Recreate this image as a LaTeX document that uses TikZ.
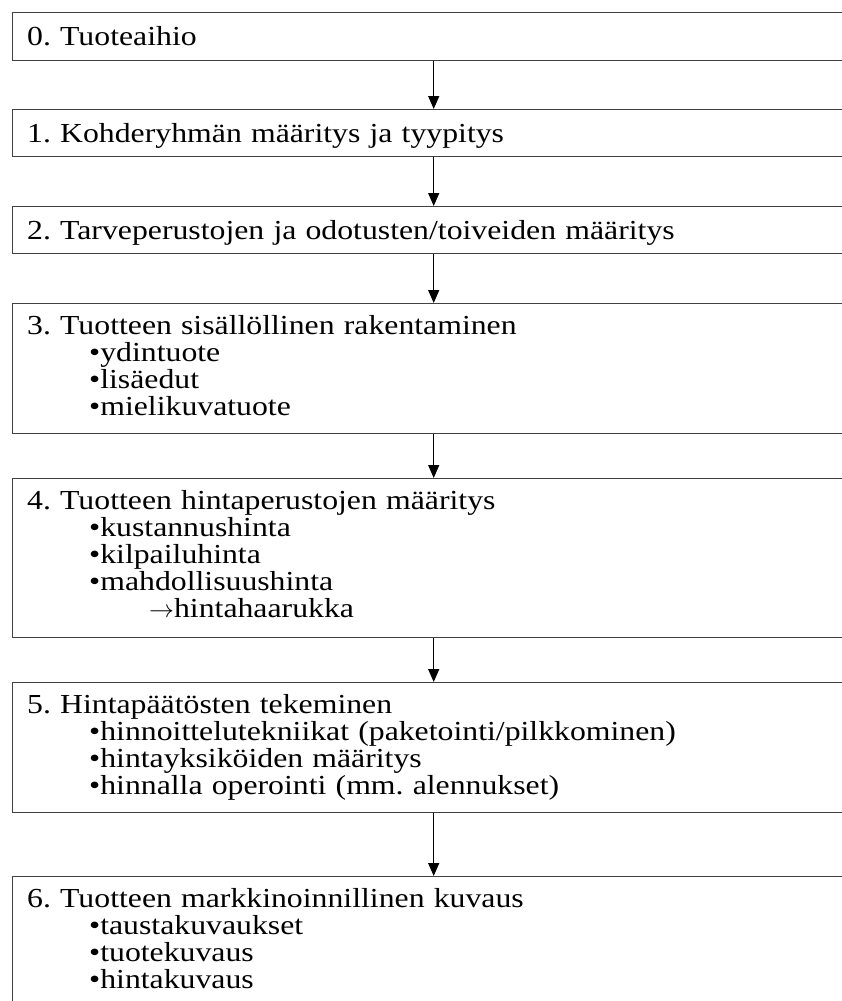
\documentclass[tikz,border=0pt]{standalone}
\usepackage{fontspec}
\setmainfont{Liberation Serif}[FakeStretch=1.155]
\usetikzlibrary{arrows.meta}
\begin{document}
\frenchspacing
\begin{tikzpicture}[x=1pt,y=-1pt,
  stage/.style={draw=black!75, line width=1.4pt, rectangle, anchor=north west,
    minimum width=842pt, inner sep=0pt},
  label/.style={anchor=north west, inner sep=0pt, text width=800pt, align=left,
    font=\fontsize{27.5}{27}\selectfont},
  single/.style={label, yshift=-9pt},
  multi/.style={label, yshift=-7pt},
  flow/.style={draw=black, line width=1.3pt, -{Triangle[width=11pt,length=13pt]}}]
\useasboundingbox (0,0) rectangle (842,1001);
\clip (0,0) rectangle (842,1001);
\fill[white] (0,0) rectangle (842,1001);
\newcommand{\itemind}{\hspace*{62pt}}
\newcommand{\subind}{\hspace*{122pt}}
\newcommand{\firstline}{\rule{0pt}{24pt}}
% process stages, top to bottom
\node[stage, minimum height=48pt]  (s0) at (12,12)  {};
\node[stage, minimum height=47pt]  (s1) at (12,109) {};
\node[stage, minimum height=47pt]  (s2) at (12,206) {};
\node[stage, minimum height=130pt] (s3) at (12,303) {};
\node[stage, minimum height=159pt] (s4) at (12,478) {};
\node[stage, minimum height=130pt] (s5) at (12,682) {};
\node[stage, minimum height=130pt] (s6) at (12,876) {};
% stage texts
\node[single] (t0) at ([xshift=15pt]s0.north west) {\firstline0. Tuoteaihio};
\node[single] (t1) at ([xshift=15pt]s1.north west) {\firstline1. Kohderyhmän määritys ja tyypitys};
\node[single] (t2) at ([xshift=15pt]s2.north west) {\firstline2. Tarveperustojen ja odotusten/toiveiden määritys};
\node[multi] (t3) at ([xshift=15pt]s3.north west) {\firstline3. Tuotteen sisällöllinen rakentaminen\\
  \itemind•ydintuote\\
  \itemind•lisäedut\\
  \itemind•mielikuvatuote};
\node[multi] (t4) at ([xshift=15pt]s4.north west) {\firstline4. Tuotteen hintaperustojen määritys\\
  \itemind•kustannushinta\\
  \itemind•kilpailuhinta\\
  \itemind•mahdollisuushinta\\
  \subind$\rightarrow$hintahaarukka};
\node[multi] (t5) at ([xshift=15pt]s5.north west) {\firstline5. Hintapäätösten tekeminen\\
  \itemind•hinnoittelutekniikat (paketointi/pilkkominen)\\
  \itemind•hintayksiköiden määritys\\
  \itemind•hinnalla operointi (mm. alennukset)};
\node[multi] (t6) at ([xshift=15pt]s6.north west) {\firstline6. Tuotteen markkinoinnillinen kuvaus\\
  \itemind•taustakuvaukset\\
  \itemind•tuotekuvaus\\
  \itemind•hintakuvaus};
% connectors
\draw[flow] (s0.south) -- (s1.north);
\draw[flow] (s1.south) -- (s2.north);
\draw[flow] (s2.south) -- (s3.north);
\draw[flow] (s3.south) -- (s4.north);
\draw[flow] (s4.south) -- (s5.north);
\draw[flow] (s5.south) -- (s6.north);
\end{tikzpicture}
\end{document}
